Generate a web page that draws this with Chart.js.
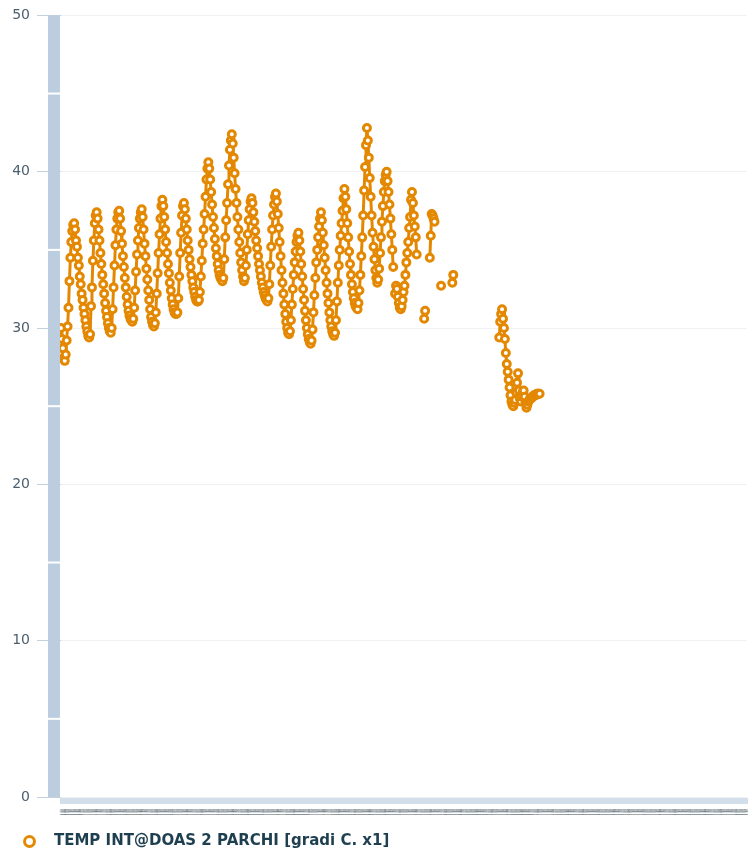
<!DOCTYPE html>
<html>
<head>
<meta charset="utf-8">
<script src="https://cdn.jsdelivr.net/npm/chart.js@4.4.1/dist/chart.umd.min.js"></script>
<style>
  html, body { margin: 0; padding: 0; background: #fff; }
  #wrap { width: 748px; height: 852px; position: relative; }
</style>
</head>
<body>
<div id="wrap"><canvas id="chart"></canvas></div>
<script>
// hourly readings, day / hour used for the x categories
const days = ['01','02','03','04','05','06','07','08','09','10','11','12','13','14','15','16',
              '17','18','19','20','21','22','23','24','25','26','27','28','29','30','31'];
const hours = ['00','01','02','03','04','05','06','07','08','09','10','11',
               '12','13','14','15','16','17','18','19','20','21','22','23'];
const pointCount = 732;

// main block of readings (one line per daily cycle)
const tempMain = [
  30.0, 29.3, 28.7, 28.1, 27.9, 28.3, 29.2, 30.1, 31.3, 33.0, 34.5, 35.5, 36.2, 36.6,
  36.7, 36.3, 35.6, 35.2, 34.5, 34.0, 33.3, 32.8, 32.2, 31.8, 31.3, 30.9, 30.5, 30.1, 29.8, 29.5, 29.4, 29.6, 31.4, 32.6, 34.3, 35.6, 36.7, 37.2,
  37.4, 37.0, 36.3, 35.6, 34.8, 34.1, 33.4, 32.8, 32.2, 31.6, 31.1, 30.7, 30.3, 30.0, 29.8, 29.7, 30.0, 31.2, 32.6, 34.0, 35.3, 36.3, 37.0, 37.4,
  37.5, 37.0, 36.2, 35.4, 34.6, 33.9, 33.2, 32.6, 32.0, 31.5, 31.1, 30.8, 30.6, 30.5, 30.4, 30.6, 31.3, 32.4, 33.6, 34.7, 35.6, 36.4, 37.0, 37.4,
  37.6, 37.1, 36.3, 35.4, 34.6, 33.8, 33.1, 32.4, 31.8, 31.2, 30.7, 30.4, 30.2, 30.1, 30.3, 31.0, 32.2, 33.5, 34.8, 36.0, 37.0, 37.8,
  38.2, 37.8, 37.1, 36.3, 35.5, 34.8, 34.1, 33.5, 32.9, 32.4, 31.9, 31.5, 31.2, 31.0, 30.9, 30.9, 31.0, 31.9, 33.3, 34.8, 36.1, 37.2, 37.8,
  38.0, 37.6, 37.0, 36.3, 35.6, 35.0, 34.4, 33.9, 33.4, 33.0, 32.6, 32.3, 32.0, 31.8, 31.7, 31.7, 31.8, 32.3, 33.3, 34.3, 35.4, 36.3, 37.3, 38.4, 39.5, 40.2,
  40.6, 40.2, 39.5, 38.7, 37.9, 37.1, 36.4, 35.7, 35.1, 34.6, 34.1, 33.7, 33.4, 33.2, 33.1, 33.0, 33.2, 34.4, 35.8, 36.9, 38.0, 39.2, 40.4, 41.4, 42.0,
  42.4, 41.8, 40.9, 39.9, 38.9, 38.0, 37.1, 36.3, 35.5, 34.8, 34.2, 33.7, 33.3, 33.0, 33.2, 34.0, 35.0, 36.0, 36.9, 37.6, 38.1,
  38.3, 38.0, 37.4, 36.8, 36.2, 35.6, 35.1, 34.6, 34.1, 33.7, 33.3, 32.9, 32.6, 32.3, 32.1, 31.9, 31.8, 31.7, 31.9, 32.8, 34.0, 35.2, 36.3, 37.2, 37.9, 38.4,
  38.6, 38.1, 37.3, 36.4, 35.5, 34.6, 33.7, 32.9, 32.2, 31.5, 30.9, 30.4, 30.0, 29.7, 29.6, 29.8, 30.5, 31.5, 32.5, 33.4, 34.2, 34.9, 35.5, 35.9,
  36.1, 35.6, 34.9, 34.1, 33.3, 32.5, 31.8, 31.1, 30.5, 30.0, 29.6, 29.3, 29.1, 29.0, 29.2, 29.9, 31.0, 32.1, 33.2, 34.2, 35.0, 35.8, 36.5, 37.0,
  37.4, 36.9, 36.1, 35.3, 34.5, 33.7, 32.9, 32.2, 31.6, 31.0, 30.5, 30.1, 29.8, 29.6, 29.5, 29.7, 30.5, 31.7, 32.9, 34.0, 35.0, 35.9, 36.7, 37.5, 38.3,
  38.9, 38.4, 37.6, 36.7, 35.8, 34.9, 34.1, 33.4, 32.8, 32.3, 31.9, 31.6, 31.4, 31.3, 31.2, 31.6, 32.4, 33.4, 34.6, 35.8, 37.2, 38.8, 40.3, 41.7,
  42.8, 42.0, 40.9, 39.6, 38.4, 37.2, 36.1, 35.2, 34.4, 33.7, 33.2, 32.9, 33.1, 33.8, 34.8, 35.8, 36.8, 37.8, 38.7, 39.4, 39.8,
  40.0, 39.4, 38.7, 37.9, 37.0, 36.0, 35.0, 33.9, null, 32.2, 32.7, 32.5, 32.0, 31.6, 31.3, 31.2, 31.4, 31.8, 32.3, 32.7, 33.4,
  34.2, 34.8, 35.5, 36.4, 37.1, 38.2, 38.7, 38.0, 37.2, 36.5, 35.8, 34.7
];
// later scattered readings, with the length of each gap before them
const gapB = 7;  const tempB = [30.6, 31.1];
const gapC = 4;  const tempC = [34.5, 35.9, 37.3, 37.2, 37.0, 36.8];
const gapD = 6;  const tempD = [32.7];
const gapE = 11; const tempE = [32.9, 33.4];
const gapF = 48;
const tempF = [
  29.4, 30.4, 30.9, 31.2, 30.6, 30.0, 29.3, 28.4, 27.7, 27.2, 26.7, 26.2, 25.7, 25.3, 25.1, 25.0,
  25.2, 25.4, 25.9, 26.5, 27.1, 26.0, 25.5, 25.3, 25.6, 25.9, 26.0, 25.6, 25.2, 24.9, 25.1, 25.3,
  25.4, 25.5, 25.5, 25.6, 25.6, 25.7, 25.7, 25.7, 25.8, 25.8, 25.8, 25.8
];

const yTicks = [0, 10, 20, 30, 40, 50];
const yMinor = [5, 15, 25, 35, 45];
const seriesName = 'TEMP INT@DOAS 2 PARCHI [gradi C. x1]';

const gap = n => new Array(n).fill(null);
const temperature = [
  ...tempMain, ...gap(gapB), ...tempB, ...gap(gapC), ...tempC,
  ...gap(gapD), ...tempD, ...gap(gapE), ...tempE, ...gap(gapF), ...tempF
];
const labels = days.flatMap(d => hours.map(h => d + ' ' + h)).slice(0, pointCount);

// thick pale axis bars drawn beside the plot area
const axisBars = {
  id: 'axisBars',
  afterDraw(chart) {
    const { ctx, chartArea: a, scales } = chart;
    ctx.save();
    ctx.fillStyle = '#bccddf';
    ctx.fillRect(a.left - 13, a.top, 12, a.bottom - a.top);
    ctx.fillStyle = '#ffffff';
    yMinor.forEach(v => {
      const py = scales.y.getPixelForValue(v);
      ctx.fillRect(a.left - 13, py - 1, 12, 2);
    });
    ctx.fillStyle = '#d3deeb';
    ctx.fillRect(a.left - 1, a.bottom + 1, a.right - a.left + 2, 6);
    ctx.restore();
  }
};

const orange = '#e38800';

new Chart(document.getElementById('chart'), {
  type: 'line',
  data: {
    labels: labels,
    datasets: [{
      label: '  ' + seriesName,
      data: temperature,
      borderColor: orange,
      backgroundColor: '#ffffff',
      borderWidth: 3,
      borderJoinStyle: 'round',
      pointRadius: 3.5,
      pointBorderWidth: 3,
      pointBackgroundColor: '#ffffff',
      pointBorderColor: orange,
      spanGaps: false,
      tension: 0
    }]
  },
  options: {
    responsive: true,
    maintainAspectRatio: false,
    animation: false,
    layout: { autoPadding: false, padding: { top: 0, left: 4, right: 1, bottom: -7 } },
    plugins: {
      tooltip: { enabled: false },
      legend: {
        position: 'bottom',
        align: 'start',
        labels: {
          usePointStyle: true,
          pointStyle: 'circle',
          boxWidth: 13,
          boxHeight: 7,
          padding: 19,
          color: '#1e3f50',
          font: { family: 'DejaVu Sans', size: 15, weight: 'bold' }
        }
      }
    },
    scales: {
      x: {
        afterFit: s => { s.height = 18; s.paddingLeft = 0; s.paddingRight = 0; },
        border: { display: false },
        grid: { display: false, drawTicks: true, tickLength: 12 },
        ticks: {
          autoSkip: false,
          minRotation: 90,
          maxRotation: 90,
          padding: 0,
          color: '#6f7b80',
          font: { family: 'DejaVu Sans', size: 3 }
        }
      },
      y: {
        min: 0,
        max: 50,
        afterFit: s => { s.width = 57; },
        afterBuildTicks: s => { s.ticks = yTicks.map(v => ({ value: v })); },
        border: { display: false },
        grid: { color: '#f0f1f2', tickColor: '#c3d1df', tickLength: 24, lineWidth: 1 },
        ticks: {
          padding: 7,
          color: '#4b5f6e',
          font: { family: 'DejaVu Sans', size: 14 }
        }
      }
    }
  },
  plugins: [axisBars]
});
</script>
</body>
</html>
